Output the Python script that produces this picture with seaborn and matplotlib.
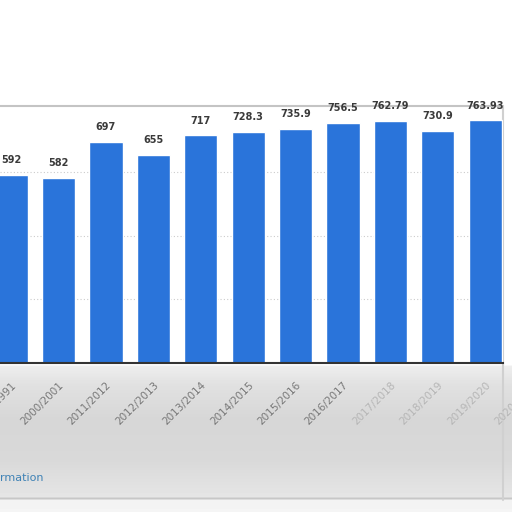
import numpy as np
import pandas as pd
import seaborn as sns
import matplotlib.pyplot as plt

# data
years = ["1990/1991", "2000/2001", "2011/2012", "2012/2013", "2013/2014", "2014/2015",
         "2015/2016", "2016/2017", "2017/2018", "2018/2019", "2019/2020"]
values = [592, 582, 697, 655, 717, 728.3, 735.9, 756.5, 762.79, 730.9, 763.93]
next_year = "2020/2021"  # label of the bar cut off on the right

df = pd.DataFrame({"year": years, "value": values})

sns.set_theme(style="white")
plt.rcParams['font.family'] = ['DejaVu Sans']

fig = plt.figure(figsize=(5.12, 5.12), dpi=100, facecolor="white")

# blurred grey footer behind the axis labels
bg = fig.add_axes([0, 0, 1, 1], zorder=0)
rows = np.arange(512)
shade = np.interp(rows, [0, 364, 366, 385, 420, 460, 490, 496, 498, 500, 512],
                  [1, 1, 0.93, 0.88, 0.84, 0.85, 0.89, 0.9, 0.78, 0.95, 0.96])
bg.imshow(np.repeat(shade[:, None], 512, axis=1), cmap="gray", vmin=0, vmax=1,
          extent=(0, 512, 512, 0), aspect="auto")
bg.set_xlim(0, 512)
bg.set_ylim(512, 0)
bg.axis("off")
# card border lines
bg.plot([0, 503], [106, 106], color="#c4c4c4", lw=1.5)
bg.plot([503, 503], [106, 500], color="#d0d0d0", lw=1.5)
bg.text(0, 478, "rmation", color="#3f82b5", fontsize=8, va="center", ha="left")

ax = fig.add_axes([0, (512 - 363) / 512, 503 / 512, (363 - 106) / 512], zorder=1)
sns.barplot(data=df, x="year", y="value", color="#2a74da", saturation=1, width=0.7, ax=ax)

ax.bar_label(ax.containers[0], labels=[f"{v:g}" for v in values], padding=7,
             fontsize=7, fontweight="bold", color="#3a3a3a")

ax.set_xlim(-0.236, 10.376)
ax.set_ylim(0, 809)
ax.set_yticks([200, 400, 600])
ax.yaxis.grid(True, linestyle=(0, (1, 2)), color="#cccccc", lw=0.8)
ax.set_axisbelow(True)
ax.tick_params(axis="y", left=False, labelleft=False)
ax.tick_params(axis="x", length=0, pad=12, labelsize=7.5, labelcolor="#777777")
for i, lab in enumerate(ax.get_xticklabels()):
    lab.set_rotation(45)
    lab.set_ha("right")
    lab.set_rotation_mode("anchor")
    if i >= 8:
        lab.set_color("#b5b5b5")
ax.text(len(values), -12 / 72 * 100 * 809 / 257, next_year, rotation=45, ha="right",
        va="top", rotation_mode="anchor", fontsize=7.5, color="#b5b5b5", clip_on=False)
ax.set_xlabel("")
ax.set_ylabel("")
for s in ["top", "left", "right"]:
    ax.spines[s].set_visible(False)
ax.spines["bottom"].set_color("#333333")
ax.spines["bottom"].set_linewidth(1.5)
ax.patch.set_alpha(0)

plt.savefig("out.png", dpi=100, facecolor="white")
